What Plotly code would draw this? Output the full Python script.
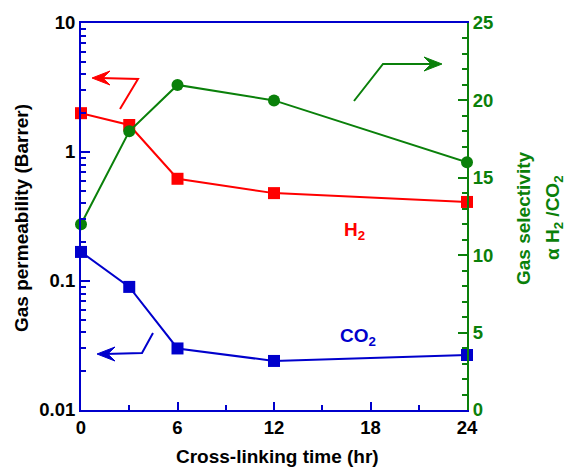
import plotly.graph_objects as go

time_hr = [0, 3, 6, 12, 24]
h2_perm = [2.0, 1.62, 0.62, 0.48, 0.41]
co2_perm = [0.168, 0.09, 0.030, 0.024, 0.0267]
selectivity = [12, 18, 21, 20, 16]

x_ticks = [0, 6, 12, 18, 24]
y_ticks = [0.01, 0.1, 1, 10]
y_tick_text = ["0.01", "0.1", "1", "10"]
y2_ticks = [0, 5, 10, 15, 20, 25]

RED = "#FF0000"
BLUE = "#0000CC"
GREEN = "#0A800A"
FONT = "Liberation Sans"
TICK_SIZE = 18.5
TITLE_SIZE = 19

L, R, T, B = 81, 467, 23, 410
W, H = 568, 470


def px(X):
    return (X - L) / (R - L)


def py(Y):
    return (B - Y) / (B - T)


fig = go.Figure()
fig.add_trace(go.Scatter(x=time_hr, y=co2_perm, mode="lines+markers",
                         line=dict(color=BLUE, width=2),
                         marker=dict(symbol="square", size=12, color=BLUE),
                         cliponaxis=False, showlegend=False))
fig.add_trace(go.Scatter(x=time_hr, y=h2_perm, mode="lines+markers",
                         line=dict(color=RED, width=2),
                         marker=dict(symbol="square", size=12, color=RED),
                         cliponaxis=False, showlegend=False))
fig.add_trace(go.Scatter(x=time_hr, y=selectivity, mode="lines+markers", yaxis="y2",
                         line=dict(color=GREEN, width=2),
                         marker=dict(symbol="circle", size=12, color=GREEN),
                         cliponaxis=False, showlegend=False))

fig.update_layout(
    width=W, height=H,
    margin=dict(l=L, r=W - R, t=T, b=H - B),
    plot_bgcolor="white", paper_bgcolor="white",
    xaxis=dict(range=[0, 24], tickvals=x_ticks, ticktext=[f"<b>{t}</b>" for t in x_ticks],
               ticks="inside", ticklen=8, tickwidth=2,
               tickcolor=BLUE, showline=True, linecolor=BLUE, linewidth=2, mirror=True,
               showgrid=False, zeroline=False, automargin=False,
               tickfont=dict(family=FONT, size=TICK_SIZE, color="black"),
               minor=dict(dtick=3, ticks="inside", ticklen=5, tickwidth=2, tickcolor=BLUE, showgrid=False)),
    yaxis=dict(type="log", range=[-2, 1], tickvals=y_ticks, ticktext=[f"<b>{t}</b>" for t in y_tick_text],
               ticks="inside", ticklen=9, tickwidth=2, tickcolor=BLUE,
               showline=True, linecolor=BLUE, linewidth=2, showgrid=False, zeroline=False,
               automargin=False,
               tickfont=dict(family=FONT, size=TICK_SIZE, color="black"),
               minor=dict(tickvals=[m * 10 ** e for e in (-2, -1, 0) for m in range(2, 10)],
                          ticks="inside", ticklen=5, tickwidth=2, tickcolor=BLUE, showgrid=False)),
    yaxis2=dict(overlaying="y", side="right", range=[0, 25], tickvals=y2_ticks,
                ticktext=[f"<b>{t}</b>" for t in y2_ticks],
                ticks="inside", ticklen=9, tickwidth=2, tickcolor=GREEN,
                showline=True, linecolor=GREEN, linewidth=2, showgrid=False, zeroline=False,
                automargin=False,
                tickfont=dict(family=FONT, size=TICK_SIZE, color=GREEN),
                minor=dict(dtick=1, ticks="inside", ticklen=5, tickwidth=2, tickcolor=GREEN, showgrid=False)),
)

title_font = dict(family=FONT, size=TITLE_SIZE)


def label(xp, yp, text, color, angle=0):
    fig.add_annotation(x=px(xp), y=py(yp), xref="paper", yref="paper", text=text,
                       textangle=angle, showarrow=False, xanchor="center", yanchor="middle",
                       font=dict(**title_font, color=color))


# axis titles
label(277, 457, "<b>Cross-linking time (hr)</b>", "black")
label(21, 218, "<b>Gas permeability (Barrer)</b>", "black", -90)
label(523, 218, "<b>Gas selectivity</b>", GREEN, -90)
label(554, 218, "<b>α H<sub>2</sub> /CO<sub>2</sub></b>", GREEN, -90)

# series labels
label(354, 231, "<b>H<sub>2</sub></b>", RED)
label(358, 337, "<b>CO<sub>2</sub></b>", BLUE)


def bent_arrow(p0, p1, tip, direction, color):
    # polyline
    fig.add_shape(type="path", xref="paper", yref="paper",
                  path=f"M {px(p0[0])},{py(p0[1])} L {px(p1[0])},{py(p1[1])} L {px(tip[0] - direction * 8)},{py(tip[1])}",
                  line=dict(color=color, width=2))
    # barbed arrowhead
    tx, ty = tip
    back = 18 * -direction
    pts = [(tx, ty), (tx + back, ty - 7), (tx + back * 0.6, ty), (tx + back, ty + 7)]
    path = "M " + " L ".join(f"{px(a)},{py(b)}" for a, b in pts) + " Z"
    fig.add_shape(type="path", xref="paper", yref="paper", path=path,
                  fillcolor=color, line=dict(color=color, width=1))


bent_arrow((120, 109), (138, 79), (92, 78), -1, RED)
bent_arrow((153, 333), (142, 353), (97, 354), -1, BLUE)
bent_arrow((354, 101), (383, 64), (442, 64), 1, GREEN)

fig.write_html("out.html", config={"displayModeBar": False},
               post_script="document.body.style.margin='0px';")
